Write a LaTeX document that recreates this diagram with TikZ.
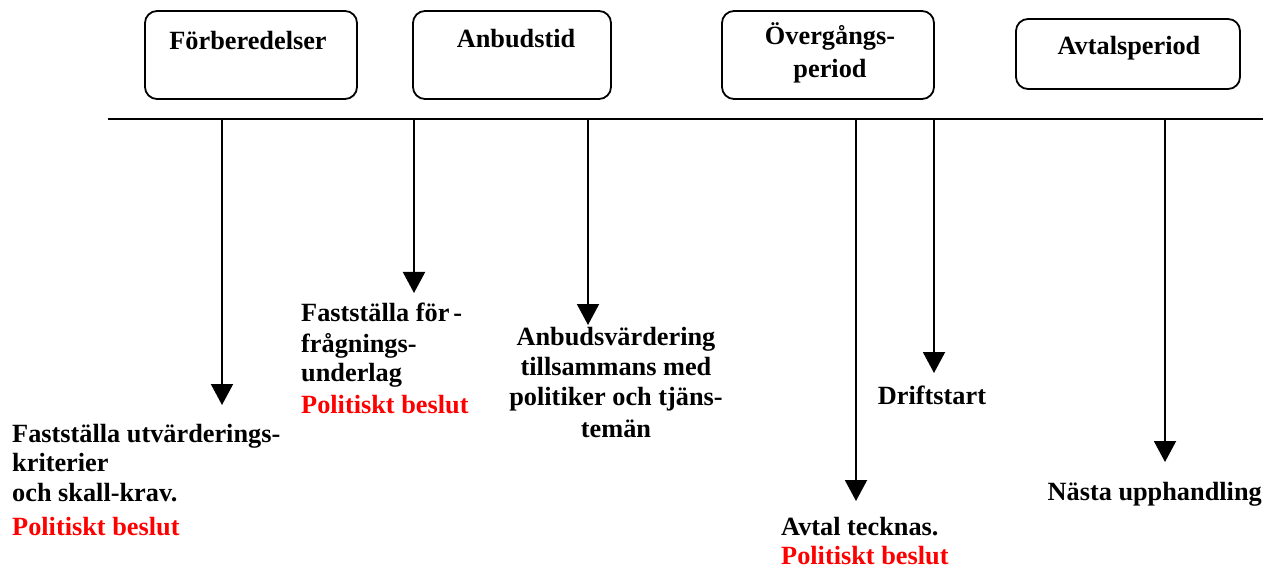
\documentclass[tikz,border=0pt]{standalone}
\usepackage{fontspec}
\setmainfont{Liberation Serif}
\usetikzlibrary{arrows.meta}
\definecolor{polred}{RGB}{255,0,0}
\begin{document}
\begin{tikzpicture}[x=1pt,y=-1pt,
  phase/.style={draw,line width=1.8pt,rounded corners=12pt,inner sep=0pt},
  lbl/.style={inner sep=0pt,font=\fontsize{26.3}{30}\selectfont\bfseries},
  redlbl/.style={lbl,text=polred},
  axis/.style={line width=2pt},
  arr/.style={line width=2pt,-{Triangle[width=22pt,length=21pt]}}
]
\useasboundingbox (0,0) rectangle (1263,569);

% phase boxes
\node[phase,minimum width=212pt,minimum height=88pt] (b1) at (251,55) {};
\node[phase,minimum width=198pt,minimum height=88pt] (b2) at (512,55) {};
\node[phase,minimum width=212pt,minimum height=88pt] (b3) at (828,55) {};
\node[phase,minimum width=224pt,minimum height=70pt] (b4) at (1128,54) {};

\node[lbl,anchor=base] (b1t) at (248,50) {Förberedelser};
\node[lbl,anchor=base] (b2t) at (516,48) {Anbudstid};
\node[lbl,anchor=base] (b3t) at (830,45) {Övergångs-};
\node[lbl,anchor=base] (b3u) at (830,78) {period};
\node[lbl,anchor=base] (b4t) at (1129,55) {Avtalsperiod};

% timeline
\coordinate (tl0) at (108,119);
\coordinate (tl1) at (1263,119);
\draw[axis] (tl0) -- (tl1);

% arrow start and end points
\coordinate (s1) at (222,119);  \coordinate (e1) at (222,405);
\coordinate (s2) at (414,119);  \coordinate (e2) at (414,293);
\coordinate (s3) at (588,119);  \coordinate (e3) at (588,325);
\coordinate (s4) at (856,119);  \coordinate (e4) at (856,501);
\coordinate (s5) at (934,119);  \coordinate (e5) at (934,373);
\coordinate (s6) at (1165,119); \coordinate (e6) at (1165,462);

\draw[arr] (s1) -- (e1);
\draw[arr] (s2) -- (e2);
\draw[arr] (s3) -- (e3);
\draw[arr] (s4) -- (e4);
\draw[arr] (s5) -- (e5);
\draw[arr] (s6) -- (e6);

% texts
\node[lbl,anchor=base west] (t1a) at (12,442) {Fastställa utvärderings-};
\node[lbl,anchor=base west] (t1b) at (12,471) {kriterier};
\node[lbl,anchor=base west] (t1c) at (12,501) {och skall-krav.};
\node[redlbl,anchor=base west] (t1d) at (12,535) {Politiskt beslut};

\node[lbl,anchor=base west] (t2a) at (301,321) {Fastställa för\hspace{4pt}-};
\node[lbl,anchor=base west] (t2b) at (301,352) {frågnings-};
\node[lbl,anchor=base west] (t2c) at (301,381) {underlag};
\node[redlbl,anchor=base west] (t2d) at (301,413) {Politiskt beslut};

\node[lbl,anchor=base] (t3a) at (616,345) {Anbudsvärdering};
\node[lbl,anchor=base] (t3b) at (616,375) {tillsammans med};
\node[lbl,anchor=base] (t3c) at (616,405) {politiker och tjäns-};
\node[lbl,anchor=base] (t3d) at (616,437) {temän};

\node[lbl,anchor=base] (t5) at (932,404) {Driftstart};

\node[lbl,anchor=base west] (t4a) at (781,535) {Avtal tecknas.};
\node[redlbl,anchor=base west] (t4b) at (781,564) {Politiskt beslut};

\node[lbl,anchor=base east] (t6) at (1262,500) {Nästa upphandling};
\end{tikzpicture}
\end{document}
